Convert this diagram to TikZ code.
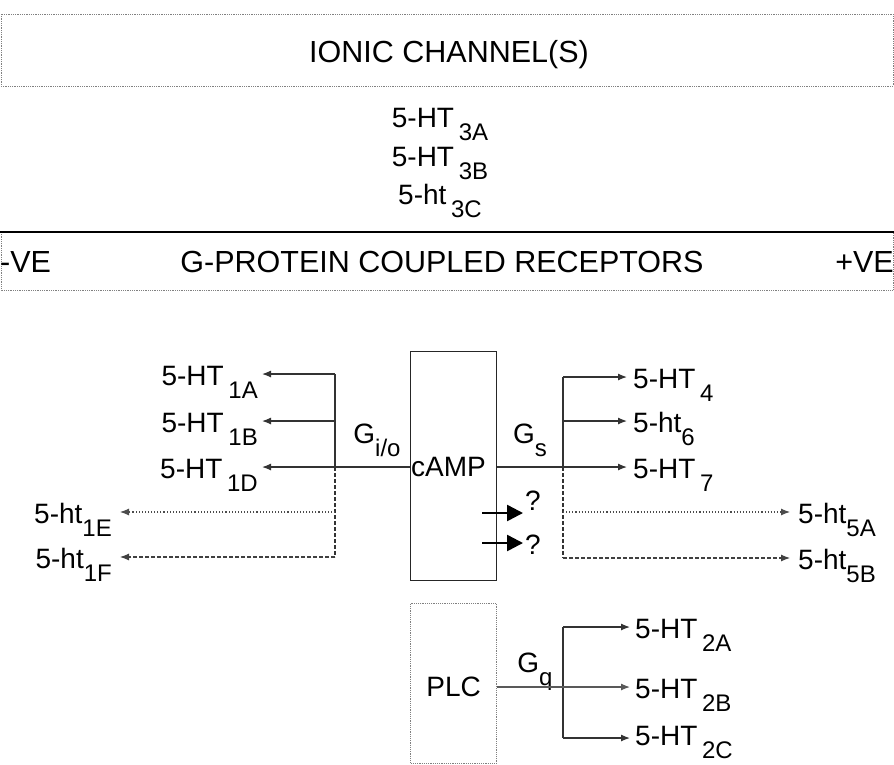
\documentclass[tikz,border=0pt]{standalone}
\usepackage{fontspec}
\setmainfont{Liberation Sans}
\usetikzlibrary{positioning, arrows.meta}
\tikzset{
    >={Latex[length=9pt,width=7pt]}, % small filled heads
    every node/.style={font=\fontsize{28}{32}\selectfont, inner sep=2pt},
    heading/.style={font=\fontsize{30.5}{34}\selectfont},
    link/.style={->, line width=1.2pt, draw=black!80},
    trunk/.style={line width=1.2pt, draw=black!80},
    weak/.style={->, line width=1.1pt, draw=black!70, dotted},
    weakdash/.style={->, line width=1.1pt, draw=black!75, dash pattern=on 4pt off 2pt},
    band/.style={draw=black!50, densely dotted, line width=0.8pt},
    effector/.style={draw=black!85, line width=1.2pt, minimum width=86pt, minimum height=229pt, inner sep=0pt},
    query/.style={-{Triangle[length=16pt,width=16pt]}, line width=2.5pt}
}
\newcommand{\ssub}[1]{\raisebox{-13pt}{\fontsize{24}{24}\selectfont #1}}

\begin{document}
\begin{tikzpicture}[x=1pt,y=-1pt]
    \useasboundingbox (0,0) rectangle (894,764);

    % ionic channels
    \draw[band] (1,14) rectangle (893,86);
    \node[heading, anchor=base] (ionic) at (449,62) {IONIC CHANNEL(S)};
    \node[anchor=base] (h3a) at (440,127) {5-HT\,\ssub{3A}};
    \node[anchor=base] (h3b) at (440,166) {5-HT\,\ssub{3B}};
    \node[anchor=base] (h3c) at (440,204) {5-ht\,\ssub{3C}};

    % g-protein coupled receptors
    \draw[band] (1,232) rectangle (893,290);
    \draw[line width=1.5pt] (0,232) -- (894,232);
    \node[heading, anchor=base west, inner sep=0pt] (neg) at (0,272) {-VE};
    \node[heading, anchor=base] (gpcr) at (442,272) {G-PROTEIN COUPLED RECEPTORS};
    \node[heading, anchor=base east, inner sep=0pt] (pos) at (894,272) {+VE};

    \node[effector, anchor=north west] (camp) at (410,351) {};
    \node[anchor=west, inner sep=1pt] (camptxt) at (410,467) {cAMP};
    \node[effector, draw=black!50, densely dotted, minimum height=160pt, anchor=north west] (plc) at (410,603) {};
    \node (plctxt) at (plc.center |- 0,687) {PLC};

    % negative side
    \coordinate (l1A) at (335,374);
    \coordinate (l1B) at (335,421);
    \coordinate (l1D) at (335,467);
    \coordinate (l1E) at (335,512);
    \coordinate (l1F) at (335,557);
    \node[anchor=base east, inner xsep=4pt] (r1A) at (262,385) {5-HT\,\ssub{1A}};
    \node[anchor=base east, inner xsep=4pt] (r1B) at (262,432) {5-HT\,\ssub{1B}};
    \node[anchor=base east, inner xsep=4pt] (r1D) at (262,478) {5-HT\,\ssub{1D}};
    \node[anchor=base east, inner xsep=8pt] (r1E) at (120,523) {5-ht\ssub{1E}};
    \node[anchor=base east, inner xsep=8pt] (r1F) at (120,568) {5-ht\ssub{1F}};
    \node[anchor=base] (gio) at (377,443) {G\ssub{i/o}};

    \draw[trunk] (l1A) -- (l1D);
    \draw[trunk, dash pattern=on 4pt off 2pt] (l1D) -- (l1F);
    \draw[link] (l1A) -- (l1A -| r1A.east);
    \draw[link] (l1B) -- (l1B -| r1B.east);
    \draw[link] (camp.west |- l1D) -- (l1D -| r1D.east);
    \draw[weak] (l1E) -- (l1E -| r1E.east);
    \draw[weakdash] (l1F) -- (l1F -| r1F.east);

    % positive side
    \coordinate (s4) at (563,377);
    \coordinate (s6) at (563,421);
    \coordinate (s7) at (563,467);
    \coordinate (s5A) at (563,512);
    \coordinate (s5B) at (563,558);
    \node[anchor=base west, inner xsep=6pt] (t4) at (627,388) {5-HT\,\ssub{4}};
    \node[anchor=base west, inner xsep=6pt] (t6) at (627,432) {5-ht\ssub{6}};
    \node[anchor=base west, inner xsep=6pt] (t7) at (627,478) {5-HT\,\ssub{7}};
    \node[anchor=base west, inner xsep=8pt] (t5A) at (790,523) {5-ht\ssub{5A}};
    \node[anchor=base west, inner xsep=8pt] (t5B) at (790,569) {5-ht\ssub{5B}};
    \node[anchor=base] (gs) at (530,443) {G\ssub{s}};

    \draw[trunk] (s4) -- (s7);
    \draw[trunk, dash pattern=on 4pt off 2pt] (s7) -- (s5B);
    \draw[link] (s4) -- (s4 -| t4.west);
    \draw[link] (s6) -- (s6 -| t6.west);
    \draw[link] (camp.east |- s7) -- (s7 -| t7.west);
    \draw[weak] (s5A) -- (s5A -| t5A.west);
    \draw[weakdash] (s5B) -- (s5B -| t5B.west);

    % unknown couplings
    \coordinate (q1) at (482,513);
    \coordinate (q2) at (482,543);
    \node (qm1) at (533,501) {?};
    \node (qm2) at (533,545) {?};
    \draw[query] (q1) -- (q1 -| qm1.west);
    \draw[query] (q2) -- (q2 -| qm2.west);

    % phospholipase C
    \coordinate (p2A) at (563,627);
    \coordinate (p2B) at (563,687);
    \coordinate (p2C) at (563,738);
    \node[anchor=base west, inner xsep=5pt] (u2A) at (630,638) {5-HT\,\ssub{2A}};
    \node[anchor=base west, inner xsep=5pt] (u2B) at (630,698) {5-HT\,\ssub{2B}};
    \node[anchor=base west, inner xsep=5pt, inner ysep=0pt] (u2C) at (630,745) {5-HT\,\ssub{2C}};
    \node[anchor=base] (gq) at (535,672) {G\ssub{q}};

    \draw[trunk] (p2A) -- (p2C);
    \draw[link] (p2A) -- (p2A -| u2A.west);
    \draw[link, draw=black!65] (plc.east |- p2B) -- (p2B -| u2B.west);
    \draw[link] (p2C) -- (p2C -| u2C.west);
\end{tikzpicture}
\end{document}
